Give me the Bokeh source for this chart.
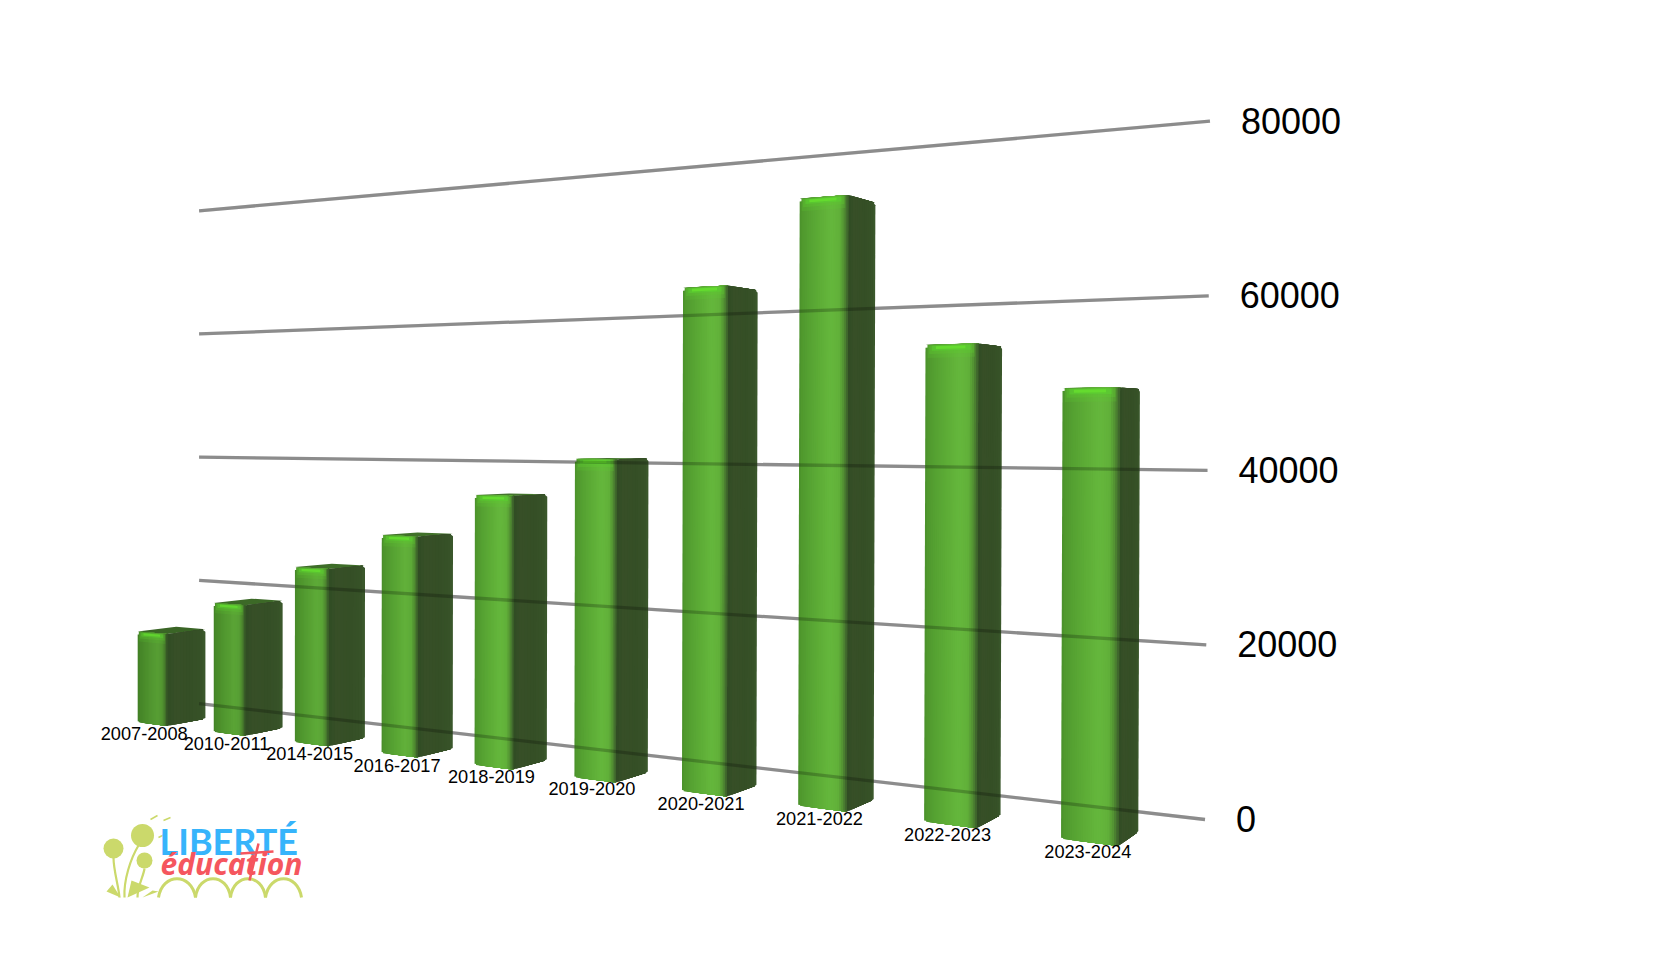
import numpy as np
from bokeh.plotting import figure
from bokeh.models import Range1d
from bokeh.core.properties import value
from bokeh.embed import file_html
from bokeh.resources import INLINE

# ---------- data ----------
categories = ["2007-2008", "2010-2011", "2014-2015", "2016-2017", "2018-2019",
              "2019-2020", "2020-2021", "2021-2022", "2022-2023", "2023-2024"]
enrolment = [13760, 18950, 24880, 29960, 35800, 40780, 62000, 71900, 54200, 49100]
value_ticks = [0, 20000, 40000, 60000, 80000]

# ---------- perspective camera (row position t, depth m, value v) ----------
C = 0.03134
ORIGIN_X, ORIGIN_Y = 137.2, 721.7
VP_ROW = (-2213.0, 425.0)
VP_DEPTH = (1686.0, 438.0)
S = 0.00659
BAR_TILT = 3.5e-8
WALL_TILT = 6.15e-8
BAR_W = 0.395
BAR_D = 0.0255
WALL_M = 0.059
WALL_T = (-0.349, 9.70)


def project(t, m, v, tilt=BAR_TILT):
    w = 1 - C * t + m
    x = (ORIGIN_X - VP_ROW[0] * C * t + VP_DEPTH[0] * m) / w
    y = (ORIGIN_Y - VP_ROW[1] * C * t + VP_DEPTH[1] * m - S * v) / w
    x = x + (x - 200) * v * tilt
    return x, y


def mix(stops, s, gain=1.0):
    pos = [a for a, _ in stops]
    rgb = [[int(c[i:i + 2], 16) for c in (b for _, b in stops)] for i in (1, 3, 5)]
    return "#%02x%02x%02x" % tuple(int(round(gain * np.interp(s, pos, ch))) for ch in rgb)


FRONT_STOPS = [(0, "#4a8f2b"), (0.04, "#4f982d"), (0.3, "#59a734"), (0.65, "#65b73c"),
               (0.82, "#61b13a"), (0.92, "#528f32"), (1, "#3a5a2b")]
SIDE_STOPS = [(0, "#304d23"), (0.2, "#374f27"), (0.6, "#354f26"), (0.95, "#375328"), (1, "#4a6b3a")]

p = figure(width=1642, height=940, output_backend="svg", toolbar_location=None,
           x_range=Range1d(0, 1642), y_range=Range1d(940, 0),
           x_axis_location=None, y_axis_location=None, min_border=0)
p.grid.visible = False
p.outline_line_color = None
p.background_fill_color = "#ffffff"
p.border_fill_color = "#ffffff"

# ---------- gridlines on the back wall: seen through the translucent bars ----------
wall_lines = []
for tick in value_ticks:
    l = project(WALL_T[0], WALL_M, tick, WALL_TILT)
    r = project(WALL_T[1], WALL_M, tick, WALL_TILT)
    wall_lines.append((tick, l, r))
    p.line([l[0], r[0]], [l[1], r[1]], line_color="#000000", line_alpha=0.295, line_width=3.3)

N_FRONT, N_SIDE = 26, 12
for i, val in enumerate(enrolment):
    gain = min(1.0, 0.86 + 0.035 * i)
    glow = 1 / (1 - C * i) / 1.3
    # top cap (only visible for the bars whose top is below the horizon)
    corners = [project(i, 0, val), project(i + BAR_W, 0, val),
               project(i + BAR_W, BAR_D, val), project(i, BAR_D, val)]
    p.patch([c[0] for c in corners], [c[1] for c in corners],
            fill_color=mix([(0, "#43752c"), (1, "#43752c")], 0, gain), line_color=None)
    # front face: strips that each run on to the far edge, so that no seam shows
    xs, ys, cols = [], [], []
    for k in range(N_FRONT):
        s0, s1 = k / N_FRONT, (k + 1) / N_FRONT
        t0, t1 = i + s0 * BAR_W, i + BAR_W
        a, b = project(t0, 0, val), project(t1, 0, val)
        c, d = project(t1, 0, 0), project(t0, 0, 0)
        drop = 3 if k == 0 else 0
        xs.append([a[0], b[0], c[0], d[0]])
        ys.append([a[1] + drop, b[1], c[1], d[1] - drop * 0.3])
        cols.append(mix(FRONT_STOPS, (s0 + s1) / 2, gain))
    # side face
    for k in range(N_SIDE):
        s0, s1 = k / N_SIDE, (k + 1) / N_SIDE
        last = k == N_SIDE - 1
        m0, m1 = s0 * BAR_D, (1 if last else max(s1, 0.93)) * BAR_D
        t = i + BAR_W
        a, b = project(t, m0, val), project(t, m1, val)
        c, d = project(t, m1, 0), project(t, m0, 0)
        drop = 2.5 if last else 0
        xs.append([a[0], b[0], c[0], d[0]])
        ys.append([a[1], b[1] + drop, c[1] - drop * 0.3, d[1]])
        cols.append(mix(SIDE_STOPS, (s0 + s1) / 2, 1.0))
    p.patches(xs, ys, fill_color=cols, line_color=None)

    # glow below the front top edge, brightest in a thin rim
    rim = [(0.04, 0.94, 0.5, 13, "#5ecb30", 0.2), (0.07, 0.92, 0.8, 9, "#5ecb30", 0.32),
           (0.12, 0.86, 1.0, 6, "#5ad42f", 0.5), (0.2, 0.76, 1.6, 4.4, "#66e02e", 0.8)]
    for s0, s1, d0, d1, col, al in rim:
        a, b = project(i + s0 * BAR_W, 0, val), project(i + s1 * BAR_W, 0, val)
        p.patch([a[0], b[0], b[0], a[0]],
                [a[1] + d0 * glow, b[1] + d0 * glow, b[1] + d1 * glow, a[1] + d1 * glow],
                fill_color=col, fill_alpha=al * (0.55 + 0.45 * gain ** 4), line_color=None)

for tick, l, r in wall_lines:
    p.line([l[0], r[0]], [l[1], r[1]], line_color="#000000", line_alpha=0.22, line_width=3.3)
    p.text([r[0] + 31], [r[1] - 0.5], text=[str(tick)], text_font=value("Liberation Sans"),
           text_font_size="36px", text_color="#000000", text_align="left", text_baseline="middle")

# ---------- category labels ----------
label_dx = [-23, -18.7, -18.7, -20.5, -21.7, -24, -25.7, -27.2, -29.3, -30.7]
label_dy = [8, 8, 7.3, 8.3, 7.4, 6.4, 6.6, 6.4, 6.3, 5.7]
for i, cat in enumerate(categories):
    x, y = project(i + BAR_W, 0, 0)
    p.text([x + label_dx[i]], [y + label_dy[i]], text=[cat], text_font=value("Liberation Sans"),
           text_font_size="18.2px", text_color="#000000", text_align="center", text_baseline="middle")

# ---------- logo ----------
GREEN, BLUE, RED = "#cbd96b", "#36b4fb", "#f5565e"
p.bezier([119, 124, 137], [897, 897, 897], [113, 138, 144], [857, 845, 868],
         [118, 123, 137], [885, 880, 885], [113, 130, 143], [870, 858, 876],
         line_color=GREEN, line_width=2.2)
p.patches([[106, 120, 112], [127, 131, 149], [142, 152, 158]],
          [[891, 897, 884], [897, 880, 887], [897, 890, 891]], fill_color=GREEN, line_color=None)
p.circle([113, 142, 144], [848, 835, 860], radius=[10, 11.5, 8], fill_color=GREEN, line_color=None)
p.segment([150, 163, 158], [819, 820, 837], [157, 170, 166], [815, 817, 833],
          line_color=GREEN, line_width=1.5)
p.bezier([158, 195, 230, 265], [897] * 4, [195, 230, 265, 301], [897] * 4,
         [162, 198, 233, 269], [872] * 4, [191, 227, 262, 297], [872] * 4,
         line_color=GREEN, line_width=3)
p.text([159], [840], text=["LIBERTÉ"], text_font=value("Lato"), text_font_style="bold",
       text_font_size="36px", text_color=BLUE, text_align="left", text_baseline="middle")
p.text([160], [863], text=["éducation"], text_font=value("Noto Sans"), text_font_style="bold italic",
       text_font_size="30px", text_color=RED, text_align="left", text_baseline="middle")
p.segment([240, 258], [853, 843], [273, 249], [851, 880], line_color=RED, line_width=2.5)

open("out.html", "w").write(file_html(p, INLINE))
